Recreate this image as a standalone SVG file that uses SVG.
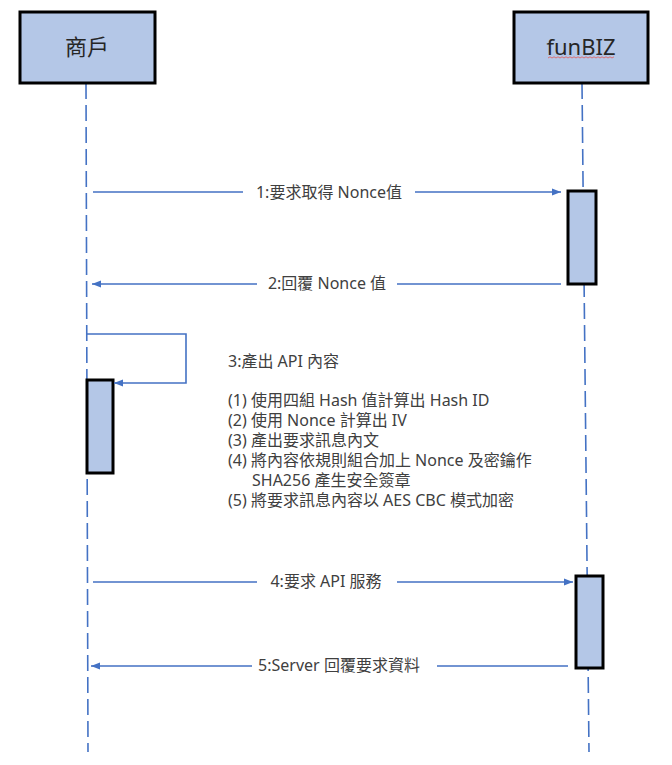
<svg xmlns="http://www.w3.org/2000/svg" width="672" height="765" viewBox="0 0 672 765">
<defs>
<marker id="ah" markerWidth="10" markerHeight="8" refX="9" refY="4" orient="auto" markerUnits="userSpaceOnUse">
<path d="M0,0.5 L9,4 L0,7.5 Z" fill="#4472C4"/>
</marker>
<style>
.box{fill:#B4C7E7;stroke:#000;stroke-width:3}
.act{fill:#B4C7E7;stroke:#000;stroke-width:3}
.life{stroke:#4472C4;stroke-width:1.6;fill:none;stroke-dasharray:16 6}
.msg{stroke:#4472C4;stroke-width:1.6;fill:none;marker-end:url(#ah)}
.hd{font-family:"Noto Sans","Noto Sans CJK TC",sans-serif;font-size:22px;fill:#262626;text-anchor:middle}
.lb{font-family:"Noto Sans","Noto Sans CJK TC",sans-serif;font-size:16px;fill:#404040}
.c{text-anchor:middle}
</style>
</defs>
<rect width="672" height="765" fill="#fff"/>
<g id="lifelines">
<path class="life" d="M86,83 L88,752"/>
<path class="life" d="M582,83 L589,752"/>
</g>
<g id="merchant">
<rect class="box" x="20" y="12" width="135" height="71"/>
<text class="hd" x="87" y="55">商戶</text>
</g>
<g id="funbiz">
<rect class="box" x="514" y="12" width="134" height="71"/>
<text class="hd" x="581" y="55">funBIZ</text>
<path d="M548,58 l2,-1.2 l2,1.2 l2,-1.2 l2,1.2 l2,-1.2 l2,1.2 l2,-1.2 l2,1.2 l2,-1.2 l2,1.2 l2,-1.2 l2,1.2 l2,-1.2 l2,1.2 l2,-1.2 l2,1.2 l2,-1.2 l2,1.2 l2,-1.2 l2,1.2 l2,-1.2 l2,1.2 l2,-1.2 l2,1.2 l2,-1.2 l2,1.2 l2,-1.2 l2,1.2 l2,-1.2 l2,1.2 l2,-1.2 l2,1.2 l2,-1.2" fill="none" stroke="#E06666" stroke-width="0.9"/>
</g>
<g id="activations">
<rect id="act-funbiz-1" class="act" x="568" y="191" width="28" height="93"/>
<rect id="act-merchant" class="act" x="87" y="380" width="26" height="93"/>
<rect id="act-funbiz-2" class="act" x="576" y="576" width="27" height="92"/>
</g>
<g id="connectors">
<path class="msg" d="M93,192 H243 M415,192 H561"/>
<path class="msg" d="M561,284 H397 M257,284 H92"/>
<path class="msg" d="M87,334 H186 V383 H114"/>
<path class="msg" d="M93,582 H257 M397,582 H573"/>
<path class="msg" d="M568,666 H437 M252,666 H91"/>
</g>
<g id="labels">
<text class="lb c" x="329" y="198">1:要求取得 Nonce值</text>
<text class="lb c" x="327" y="289">2:回覆 Nonce 值</text>
<text class="lb" x="228" y="367">3:產出 API 內容</text>
<text class="lb" x="228" y="406">(1) 使用四組 Hash 值計算出 Hash ID</text>
<text class="lb" x="228" y="426">(2) 使用 Nonce 計算出 IV</text>
<text class="lb" x="228" y="446">(3) 產出要求訊息內文</text>
<text class="lb" x="228" y="466">(4) 將內容依規則組合加上 Nonce 及密鑰作</text>
<text class="lb" x="252" y="486">SHA256 產生安全簽章</text>
<text class="lb" x="228" y="506">(5) 將要求訊息內容以 AES CBC 模式加密</text>
<text class="lb c" x="326" y="587">4:要求 API 服務</text>
<text class="lb c" x="339" y="671">5:Server 回覆要求資料</text>
</g>
</svg>
